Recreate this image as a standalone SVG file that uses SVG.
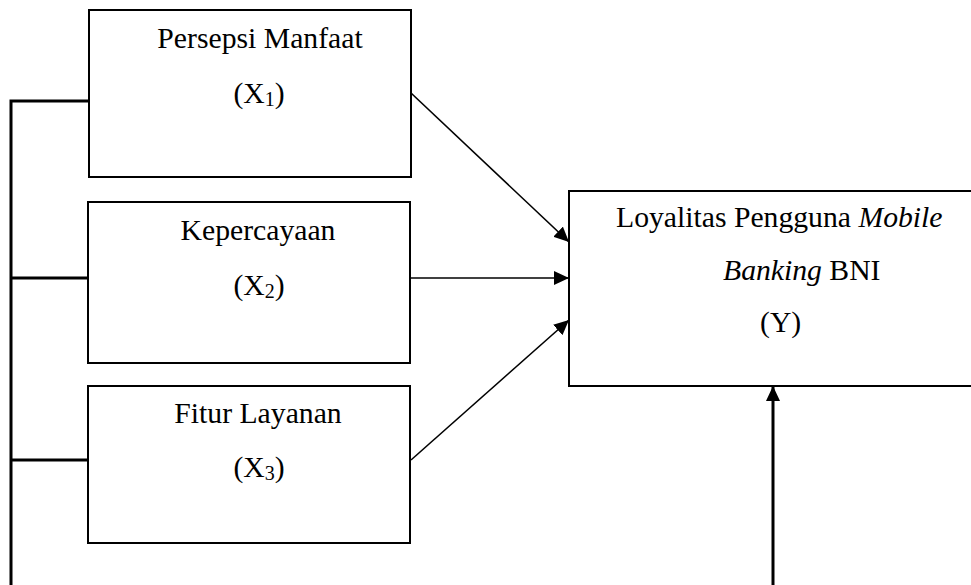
<svg xmlns="http://www.w3.org/2000/svg" width="971" height="585" viewBox="0 0 971 585">
  <style>
    .box { fill: #fff; stroke: #000; stroke-width: 2; }
    .t { font-family: "Liberation Serif", "Times New Roman", serif; font-size: 29.7px; fill: #000; }
    .sub { font-size: 20px; }
    .bus { fill: none; stroke: #000; stroke-width: 3; }
    .arr { fill: none; stroke: #000; stroke-width: 1.6; marker-end: url(#ah); }
    .arrT { fill: none; stroke: #000; stroke-width: 3; marker-end: url(#ah); }
  </style>
  <defs>
    <marker id="ah" markerUnits="userSpaceOnUse" markerWidth="16" markerHeight="14" refX="15" refY="7" orient="auto">
      <path d="M0,0 L15,7 L0,14 Z" fill="#000"/>
    </marker>
  </defs>
  <rect width="971" height="585" fill="#fff"/>

  <g id="connectors">
    <path class="bus" d="M11,585 V101 H89 M11,278 H88 M11,460 H88"/>
    <line class="arr" x1="411" y1="93" x2="569" y2="242"/>
    <line class="arr" x1="410" y1="278" x2="569" y2="278"/>
    <line class="arr" x1="411" y1="460" x2="569" y2="320"/>
    <line class="arrT" x1="773" y1="585" x2="773" y2="386"/>
  </g>

  <g id="x1">
    <rect class="box" x="89" y="10" width="322" height="167"/>
    <text class="t" x="260" y="48" text-anchor="middle">Persepsi Manfaat</text>
    <text class="t" x="259" y="103" text-anchor="middle">(X<tspan class="sub" dy="3">1</tspan><tspan dy="-3">)</tspan></text>
  </g>

  <g id="x2">
    <rect class="box" x="88" y="202" width="322" height="161"/>
    <text class="t" x="258" y="240" text-anchor="middle">Kepercayaan</text>
    <text class="t" x="259" y="295" text-anchor="middle">(X<tspan class="sub" dy="3">2</tspan><tspan dy="-3">)</tspan></text>
  </g>

  <g id="x3">
    <rect class="box" x="88" y="386" width="322" height="157"/>
    <text class="t" x="258" y="423" text-anchor="middle">Fitur Layanan</text>
    <text class="t" x="259" y="477" text-anchor="middle">(X<tspan class="sub" dy="3">3</tspan><tspan dy="-3">)</tspan></text>
  </g>

  <g id="y">
    <rect class="box" x="569" y="191" width="420" height="195"/>
    <text class="t" x="616" y="227">Loyalitas Pengguna <tspan font-style="italic">Mobile</tspan></text>
    <text class="t" x="723" y="280"><tspan font-style="italic">Banking</tspan> BNI</text>
    <text class="t" x="760" y="332">(Y)</text>
  </g>
</svg>
